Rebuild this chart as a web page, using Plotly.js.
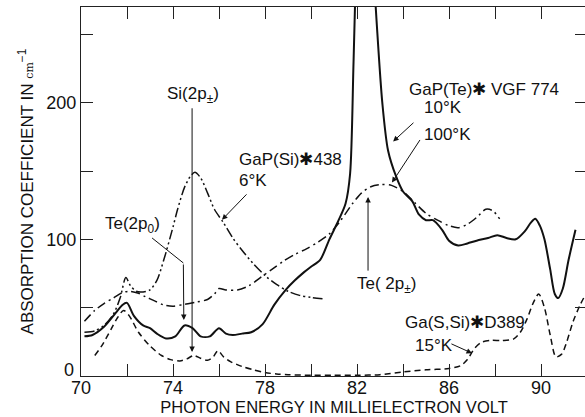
<!DOCTYPE html>
<html>
<head>
<meta charset="utf-8">
<script src="https://cdn.plot.ly/plotly-3.0.1.min.js"></script>
<style>
html,body{margin:0;padding:0;overflow:hidden;background:#fff;width:585px;height:417px;}
#chart{width:587px;height:417px;}
</style>
</head>
<body>
<div id="chart"></div>
<script>
// GaP(Te) VGF 774, 10 K (solid)
const te10E = [70.15,70.5,71.0,71.5,71.8,72.0,72.3,72.7,73.0,73.3,73.7,74.1,74.5,74.85,75.2,75.6,76.0,76.3,76.6,77.0,77.4,77.9,78.4,78.9,79.3,79.7,80.0,80.4,80.8,81.2,81.5,81.7,81.85,82.0,82.3,82.6,82.85,83.1,83.35,83.7,84.0,84.4,84.7,85.0,85.3,85.7,86.0,86.4,86.8,87.2,87.7,88.1,88.5,88.9,89.3,89.55,89.75,89.95,90.15,90.4,90.6,90.75,90.95,91.2,91.5];
const te10A = [29,30,36,46,52,53.5,44,37,35,31,27.5,29,37,35,29,29,35,31,30,31,32,38,52,63,70,76,80,85,100,114,126,148,230,320,420,330,260,200,165,146,135,128,118,114,114,107,99,95.5,97,99,101,103,101,100,106,112,115,110,100,78,60,57,64,85,107];

// GaP(Te) VGF 774, 100 K (dash-dot)
const te100E = [70.15,70.6,71.0,71.4,71.8,72.1,72.5,72.8,73.2,73.6,74.0,74.5,75.0,75.5,75.8,76.0,76.3,76.8,77.3,77.8,78.3,78.8,79.3,79.8,80.3,80.8,81.3,81.8,82.2,82.6,83.0,83.5,84.0,84.5,85.0,85.5,86.0,86.4,86.8,87.2,87.6,87.9,88.2];
const te100A = [40,48,53,57,61,62,60.5,58,55,52,51,52.5,54,56,60,64,63,63,66,72,78,84,89,93,98,104,114,126,134,138.5,140,139.5,135,127,119,114,110,108.5,111,116,122,121,115];

// GaP(Si) #438, 6 K (dash-dot-dot)
const si6E = [70.15,70.6,71.0,71.4,71.7,71.95,72.15,72.4,72.7,73.0,73.3,73.6,74.0,74.2,74.5,74.75,74.95,75.2,75.5,75.8,76.2,76.6,77.0,77.5,78.0,78.5,79.0,79.5,80.0,80.5];
const si6A = [32,33,37,45,57,72,66,62,61.5,63,70,85,109,122,138,146,149,145,134,122,112,101,92,82,73.5,67,62,59,57.5,56.5];

// Ga(S,Si) #D389, 15 K (dashed)
const s15E = [70.6,70.9,71.3,71.6,71.85,72.1,72.5,73.0,73.5,73.9,74.3,74.6,74.9,75.2,75.5,75.75,75.95,76.2,76.5,77.0,77.5,78.0,78.5,79.0,80.0,81.0,82.0,83.0,84.0,85.0,86.0,86.5,86.8,87.1,87.4,87.8,88.3,88.8,89.1,89.4,89.65,89.9,90.15,90.4,90.65,90.9,91.1,91.4,91.7,91.95];
const s15A = [15,22,34,43,48,44,32,22,15,12,11,12.5,15,13,11.5,14,18.5,14,10.5,7,4.5,2.5,1.5,1,0.5,0.5,0.5,1,3,4.5,5.5,7.5,12,20,24.5,26,26,27,32,42,53,60,50,30,14,16,24,40,52,60];

// Axis ticks
const xTickVals = [70,74,78,82,86,90];
const xTickText = ['70','74','78','82','86','90'];
const xMinorVals = [72,76,80,84,88];
const yTickVals = [100,200];
const yTickText = ['100','200'];
const yMinorVals = [0,50,150,250];
const yZeroLabel = '0';

const FONT = 'Liberation Sans, Arial, Helvetica, sans-serif';

function tr(x, y, dash, w) {
  return {x: x, y: y, type: 'scatter', mode: 'lines',
    line: {color: '#111', width: w, dash: dash, shape: 'spline', smoothing: 0.8},
    hoverinfo: 'skip', showlegend: false};
}

const data = [
  tr(te10E, te10A, 'solid', 2),
  tr(te100E, te100A, '9px,4px,2px,4px', 1.5),
  tr(si6E, si6A, '10px,3px,2px,3px,2px,3px', 1.5),
  tr(s15E, s15A, '6px,4px', 1.5)
];

function txt(x, y, text, xanchor) {
  return {x: x, y: y, xref: 'x', yref: 'y', text: text, showarrow: false,
    xanchor: xanchor || 'center', yanchor: 'middle',
    font: {family: FONT, size: 17, color: '#111'}};
}
function arr(x0, y0, x1, y1) {
  return {x: x1, y: y1, ax: x0, ay: y0, xref: 'x', yref: 'y', axref: 'x', ayref: 'y',
    text: '', showarrow: true, arrowhead: 2, arrowsize: 1.1, arrowwidth: 1,
    arrowcolor: '#111', standoff: 0, startstandoff: 0};
}

const annotations = [
  {x: 70, y: 0, xref: 'x', yref: 'y', text: yZeroLabel, showarrow: false,
   xanchor: 'right', yanchor: 'middle', xshift: -5, yshift: 6,
   font: {family: FONT, size: 18, color: '#111'}},
  txt(74.87, 205.5, 'Si(2p<sub>±</sub>)'),
  arr(74.83, 197, 74.83, 17.5),
  txt(72.26, 110.6, 'Te(2p<sub>0</sub>)'),
  arr(74.45, 82.7, 74.47, 41),
  txt(76.78, 158.4, 'GaP(Si)✱438', 'left'),
  txt(76.78, 143, '6°K', 'left'),
  arr(77.26, 134, 76.13, 114.3),
  txt(84.17, 209.8, 'GaP(Te)✱ VGF 774', 'left'),
  txt(84.83, 196.5, '10°K', 'left'),
  txt(84.83, 176.7, '100°K', 'left'),
  arr(84.52, 186.3, 83.57, 171.6),
  arr(84.78, 173.8, 83.52, 141.5),
  txt(83.3, 66.6, 'Te( 2p<sub>±</sub>)'),
  arr(82.48, 76, 82.48, 131),
  txt(84.0, 39.4, 'Ga(S,Si)✱D389', 'left'),
  txt(84.43, 22.5, '15°K', 'left'),
  arr(86.04, 24, 87.0, 16.7)
];

const shapes = [
  {type: 'line', xref: 'x', yref: 'y', x0: 73.09, y0: 101, x1: 74.45, y1: 82.7,
   line: {color: '#111', width: 1}}
];

const axisCommon = {
  showgrid: false, zeroline: false, showline: true, linecolor: '#222', linewidth: 1,
  mirror: 'ticks', ticks: 'inside', ticklen: 12, tickwidth: 1, tickcolor: '#222',
  tickfont: {family: FONT, size: 18, color: '#111'}, tickmode: 'array'
};

const layout = {
  width: 587, height: 417,
  margin: {l: 81, r: 0, t: 7, b: 41, pad: 0},
  paper_bgcolor: '#fff', plot_bgcolor: '#fff',
  showlegend: false,
  xaxis: Object.assign({}, axisCommon, {
    range: [70, 92.0], tickvals: xTickVals, ticktext: xTickText,
    minor: {tickmode: 'array', tickvals: xMinorVals, ticks: 'inside', ticklen: 12, tickwidth: 1, tickcolor: '#222', showgrid: false},
    ticklabelstandoff: -5,
    title: {text: 'PHOTON ENERGY IN MILLIELECTRON VOLT', standoff: 4,
            font: {family: FONT, size: 16.5, color: '#111'}}
  }),
  yaxis: Object.assign({}, axisCommon, {
    range: [0, 270], tickvals: yTickVals, ticktext: yTickText,
    minor: {tickmode: 'array', tickvals: yMinorVals, ticks: 'inside', ticklen: 12, tickwidth: 1, tickcolor: '#222', showgrid: false},
    ticklabelstandoff: 0,
    title: {text: "ABSORPTION COEFFICIENT IN <span style='font-family:DejaVu Serif;font-size:11px'>cm</span><sup>−1</sup>",
            standoff: 8, font: {family: FONT, size: 17, color: '#111'}}
  }),
  annotations: annotations,
  shapes: shapes
};

Plotly.newPlot('chart', data, layout, {displayModeBar: false, staticPlot: true});
</script>
</body>
</html>
